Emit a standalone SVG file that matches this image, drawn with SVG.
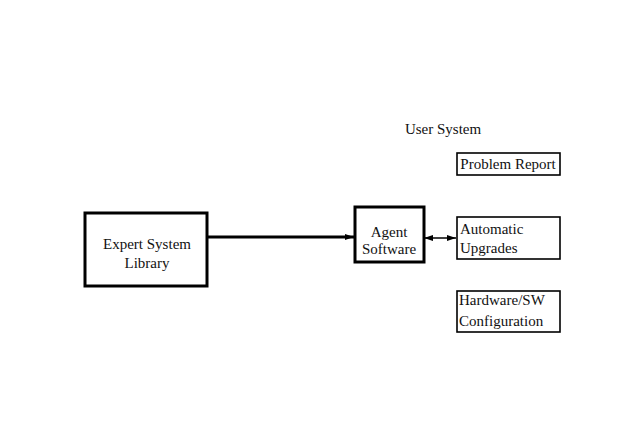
<svg xmlns="http://www.w3.org/2000/svg" width="622" height="438" viewBox="0 0 622 438">
<style>
text{font-family:"Liberation Serif","Times New Roman",serif;font-size:15px;fill:#111}
.thick{fill:#fff;stroke:#000;stroke-width:3}
.thin{fill:#fff;stroke:#000;stroke-width:1.6}
.c{text-anchor:middle}
.ln{stroke:#000;fill:none}
</style>
<defs>
<marker id="ah" markerWidth="10" markerHeight="8" refX="9" refY="4" orient="auto" markerUnits="userSpaceOnUse">
<path d="M0,1 L9,4 L0,7 Z" fill="#000"/>
</marker>
<marker id="as" markerWidth="10" markerHeight="8" refX="1" refY="4" orient="auto" markerUnits="userSpaceOnUse">
<path d="M9,1 L0,4 L9,7 Z" fill="#000"/>
</marker>
</defs>
<rect width="622" height="438" fill="#fff"/>
<text x="443" y="134" class="c">User System</text>
<g id="connectors">
<line class="ln" x1="208" y1="237" x2="354" y2="237" stroke-width="3" marker-end="url(#ah)"/>
<line class="ln" x1="425" y1="238" x2="456" y2="238" stroke-width="1.5" marker-start="url(#as)" marker-end="url(#ah)"/>
</g>
<g id="expert">
<rect class="thick" x="85" y="213" width="122" height="73"/>
<text x="147" y="249" class="c">Expert System</text>
<text x="147" y="268" class="c">Library</text>
</g>
<g id="agent">
<rect class="thick" x="355" y="207" width="69" height="55"/>
<text x="389" y="237" class="c">Agent</text>
<text x="389" y="254" class="c">Software</text>
</g>
<g id="problem">
<rect class="thin" x="457" y="153" width="103" height="22"/>
<text x="508" y="169" class="c">Problem Report</text>
</g>
<g id="upgrades">
<rect class="thin" x="457" y="217" width="103" height="42"/>
<text x="460" y="234">Automatic</text>
<text x="460" y="253">Upgrades</text>
</g>
<g id="config">
<rect class="thin" x="457" y="291" width="103" height="41"/>
<text x="459" y="305">Hardware/SW</text>
<text x="459" y="326">Configuration</text>
</g>
</svg>
